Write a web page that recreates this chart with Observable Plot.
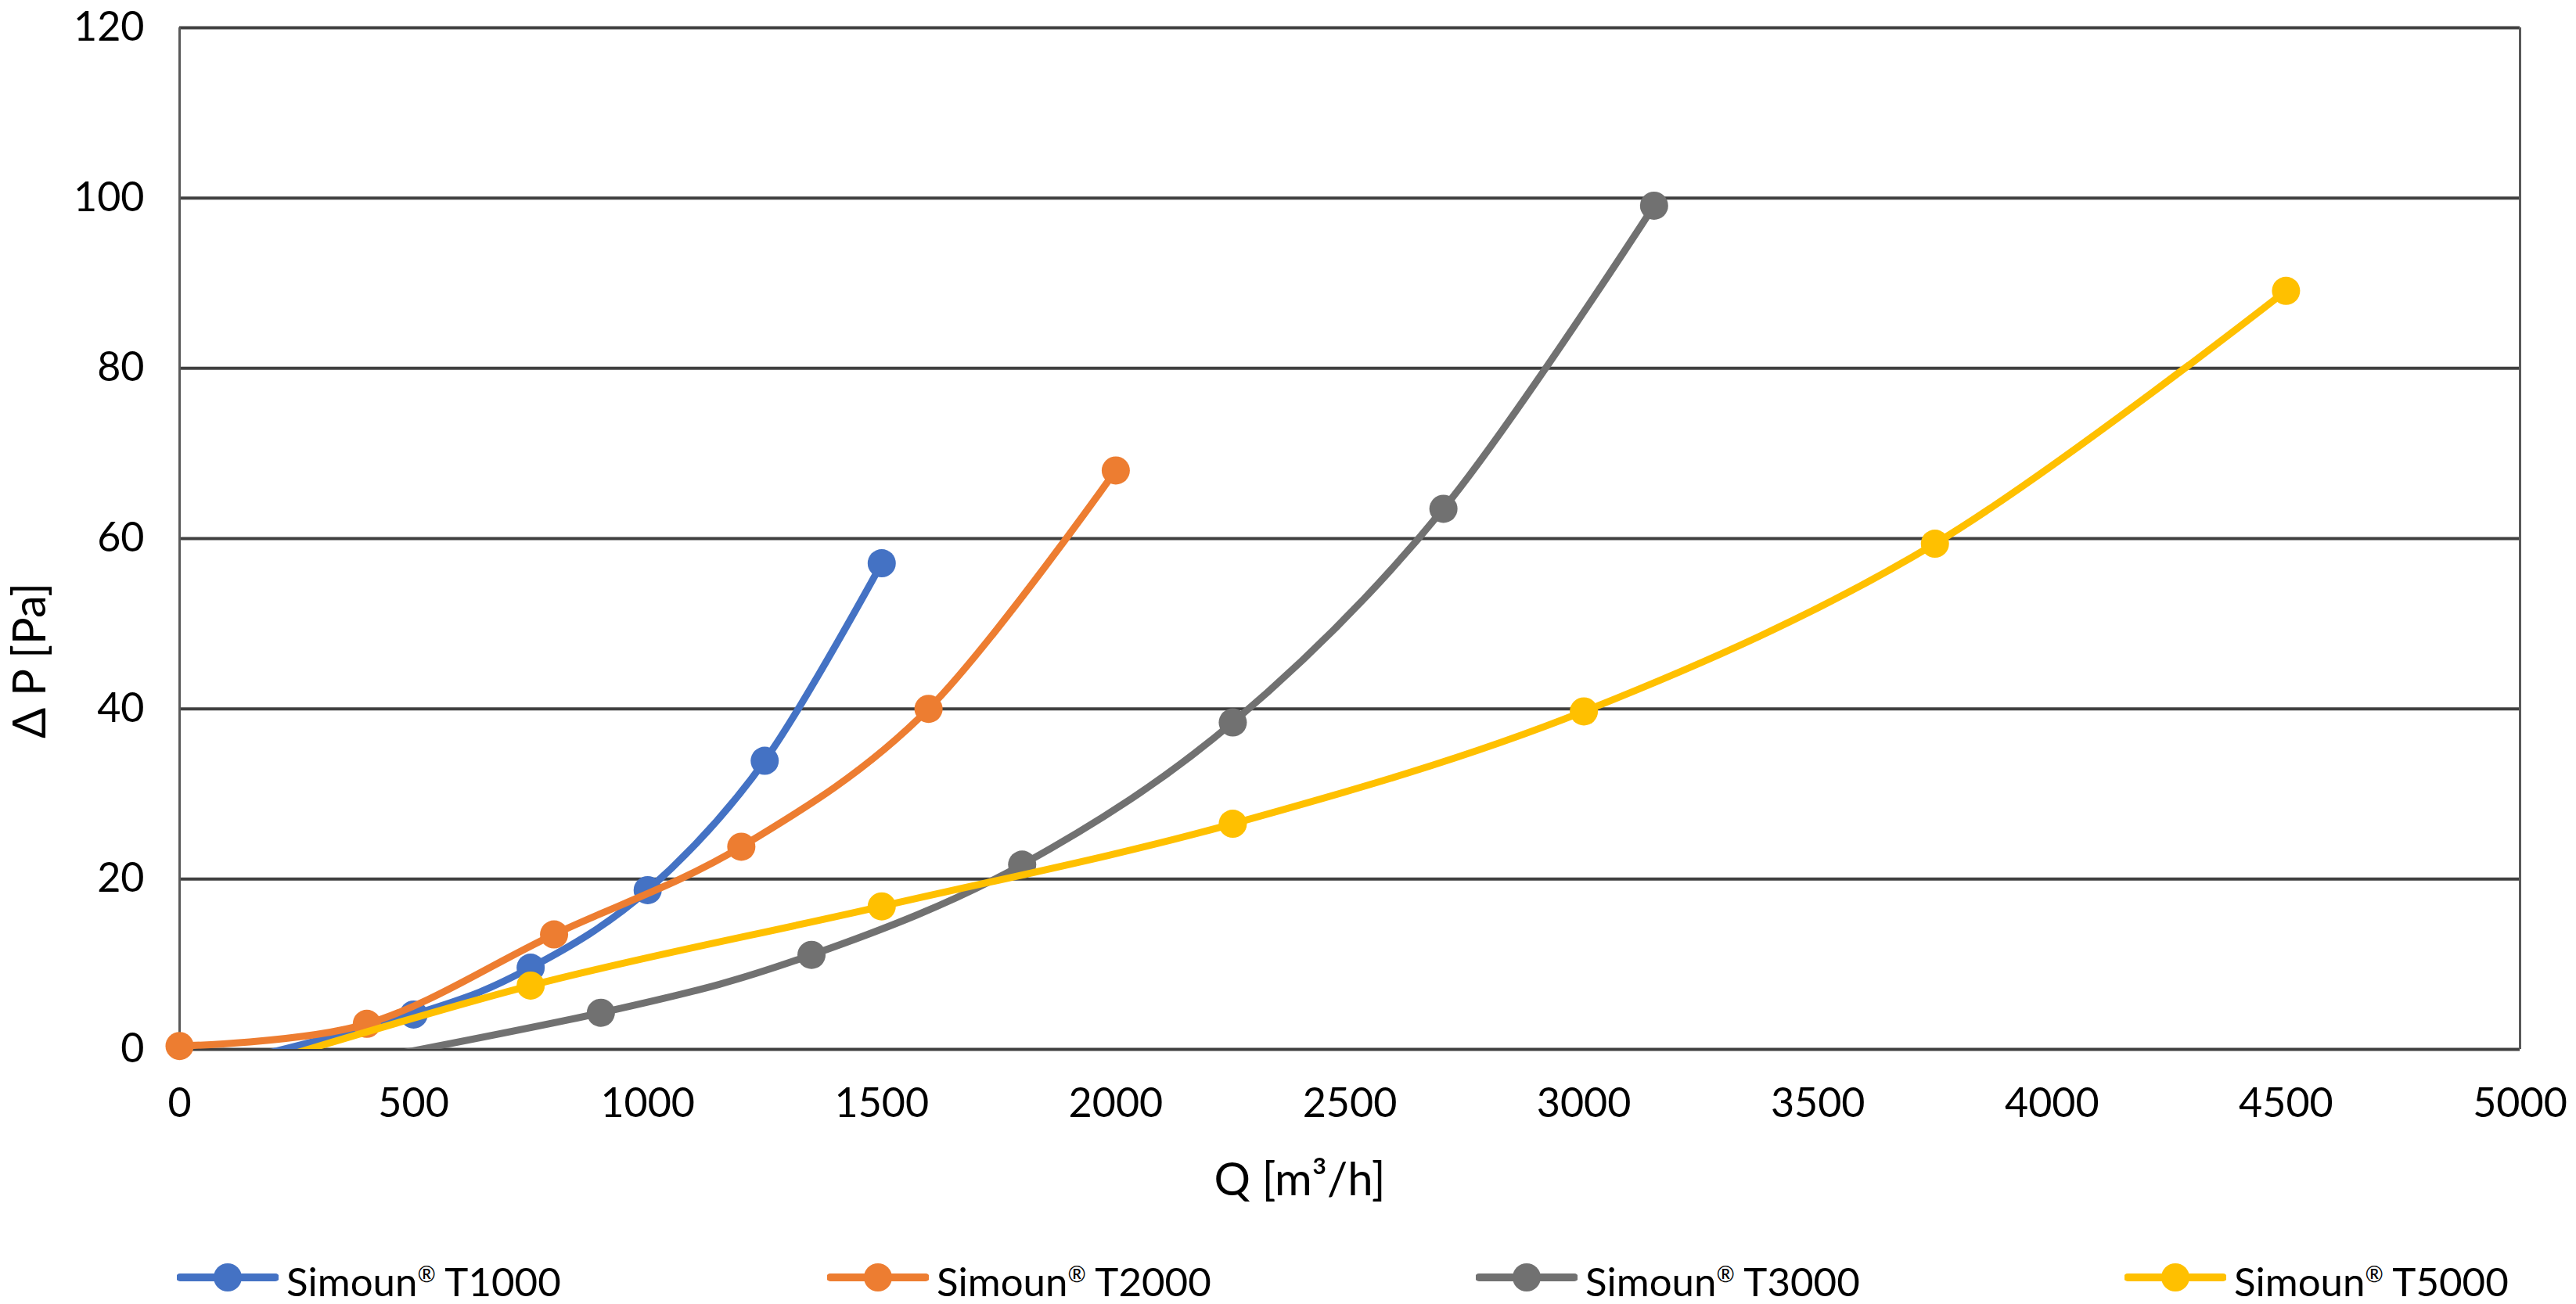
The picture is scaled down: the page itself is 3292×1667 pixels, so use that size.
<!DOCTYPE html>
<html><head><meta charset="utf-8">
<script src="https://cdn.jsdelivr.net/npm/d3@7"></script>
<script src="https://cdn.jsdelivr.net/npm/@observablehq/plot@0.6"></script>
<style>
html,body{margin:0;padding:0;background:#fff;}
#chart{position:relative;width:3292px;height:1667px;font-family:Lato,"Open Sans",sans-serif;overflow:hidden;}
#legend{position:absolute;left:0;top:1608px;width:3292px;height:50px;}
.item{position:absolute;top:0;height:50px;display:flex;align-items:center;}
.item .lbl{font-size:51px;color:#000;margin-left:10px;white-space:nowrap;line-height:50px;}
.item .reg{font-size:0.55em;vertical-align:0.65em;}
</style>
</head><body>
<div id="chart"><div id="legend"></div></div>
<script>
const seriesNames = ["Simoun® T1000", "Simoun® T2000", "Simoun® T3000", "Simoun® T5000"];
const seriesColors = ["#4472C4", "#ED7D31", "#717171", "#FFC000"];
const qT1000 = [0, 500, 750, 1000, 1250, 1500];
const pT1000 = [-3.0, 4.1, 9.6, 18.7, 33.9, 57.1];
const qT2000 = [0, 400, 800, 1200, 1600, 2000];
const pT2000 = [0.4, 3.0, 13.5, 23.8, 40.0, 68.0];
const qT3000 = [0, 900, 1350, 1800, 2250, 2700, 3150];
const pT3000 = [-5.4, 4.3, 11.1, 21.7, 38.4, 63.5, 99.1];
const qT5000 = [0, 750, 1500, 2250, 3000, 3750, 4500];
const pT5000 = [-4.6, 7.5, 16.8, 26.5, 39.7, 59.4, 89.1];
const xTicks = [0, 500, 1000, 1500, 2000, 2500, 3000, 3500, 4000, 4500, 5000];
const yTicks = [0, 20, 40, 60, 80, 100, 120];
const xLabel = "Q [m³/h]";
const yLabel = "Δ P [Pa]";

const qs = [qT1000, qT2000, qT3000, qT5000];
const ps = [pT1000, pT2000, pT3000, pT5000];
const series = seriesNames.map((name, i) => qs[i].map((q, j) => ({name, q, p: ps[i][j]})));

const seriesMarks = series.flatMap((data, i) => [
  Plot.line(data, {x: "q", y: "p", stroke: seriesColors[i], strokeWidth: 9, curve: "cardinal", strokeLinecap: "round", strokeLinejoin: "round", clip: true}),
  Plot.dot(data, {x: "q", y: "p", filter: d => d.p >= 0, fill: seriesColors[i], r: 18, stroke: "none"})
]);

const plot = Plot.plot({
  width: 3292, height: 1580,
  marginLeft: 229, marginRight: 72, marginTop: 35, marginBottom: 239,
  style: {fontFamily: "Lato, 'Open Sans', sans-serif", fontSize: "52px", color: "#000", background: "#fff", overflow: "visible"},
  x: {domain: [0, 5000]},
  y: {domain: [0, 120]},
  marks: [
    Plot.ruleY(yTicks, {stroke: "#404040", strokeWidth: 4}),
    Plot.ruleX([0, 5000], {stroke: "#595959", strokeWidth: 3}),
    Plot.axisX({ticks: xTicks, tickSize: 0, tickPadding: 50, fontSize: 52, label: null, tickFormat: d => String(d)}),
    Plot.axisY({ticks: yTicks, tickSize: 0, tickPadding: 45, fontSize: 52, label: null, tickFormat: d => String(d)}),
    Plot.text([xLabel], {frameAnchor: "bottom", textAnchor: "middle", lineAnchor: "middle", dx: -64, dy: 168, fontSize: 58, fill: "#000"}),
    Plot.text([yLabel], {frameAnchor: "left", textAnchor: "middle", lineAnchor: "middle", rotate: -90, dx: -190, dy: 156, fontSize: 58, fill: "#000"}),
    ...seriesMarks
  ]
});
document.getElementById("chart").insertBefore(plot, document.getElementById("legend"));

const legendLeft = [226, 1057, 1886, 2715];
const legend = document.getElementById("legend");
seriesNames.forEach((name, i) => {
  const item = document.createElement("div");
  item.className = "item";
  item.style.left = legendLeft[i] + "px";
  const c = seriesColors[i];
  item.innerHTML = `<svg width="130" height="50" viewBox="0 0 130 50"><line x1="4" y1="25" x2="126" y2="25" stroke="${c}" stroke-width="10" stroke-linecap="round"/><circle cx="65" cy="25" r="18" fill="${c}"/></svg>`;
  const lbl = document.createElement("span");
  lbl.className = "lbl";
  const parts = name.split("®");
  lbl.append(parts[0]);
  const reg = document.createElement("span");
  reg.className = "reg";
  reg.textContent = "®";
  lbl.append(reg);
  lbl.append(parts[1]);
  item.appendChild(lbl);
  legend.appendChild(item);
});
</script>
</body></html>
